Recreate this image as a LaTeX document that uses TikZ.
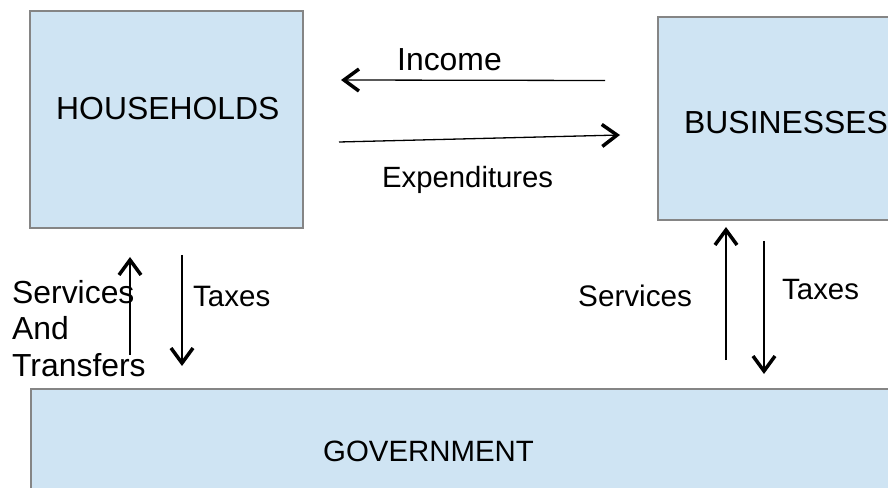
\documentclass[tikz,border=0pt]{standalone}
\usepackage{fontspec}
\setmainfont{Liberation Sans}
\usetikzlibrary{arrows.meta}
\begin{document}
\begin{tikzpicture}[x=1bp,y=-1bp,
  sector/.style={draw=boxgrey, line width=2bp, fill=boxblue, inner sep=0pt},
  lbl/.style={anchor=base west, inner sep=0pt, text=black},
  flow/.style={line width=1.3bp, -{Straight Barb[length=15bp,width=22bp,line width=3.5bp]}}]
\definecolor{boxblue}{HTML}{CFE4F3}
\definecolor{boxgrey}{HTML}{858585}
\useasboundingbox (0,0) rectangle (888,488);
\clip (0,0) rectangle (888,488);
\fill[white] (0,0) rectangle (888,488);

% sectors
\node[sector, minimum width=273bp, minimum height=217bp] (hh) at (166.5,119.5) {};
\node[sector, minimum width=262bp, minimum height=203bp] (bus) at (789,118.5) {};
\node[sector, minimum width=880bp, minimum height=140bp] (gov) at (471,459) {};

\node[lbl, font=\fontsize{32}{36}\selectfont] (hhT) at (56,120) {HOUSEHOLDS};
\node[lbl, font=\fontsize{32}{36}\selectfont] (busT) at (684,134) {BUSINESSES};
\node[lbl, font=\fontsize{29.5}{34}\selectfont] (govT) at (323,461) {GOVERNMENT};

% flow labels
\node[lbl, font=\fontsize{32}{36}\selectfont] (inc) at (397,71) {Income};
\node[lbl, font=\fontsize{29.4}{34}\selectfont] (exp) at (382,188) {Expenditures};
\node[lbl, font=\fontsize{32}{36.5}\selectfont, align=left, anchor=north west] (svcL) at (12,280) {Services\\And\\Transfers};
\node[lbl, font=\fontsize{29.6}{34}\selectfont] (taxL) at (193,307) {Taxes};
\node[lbl, font=\fontsize{29.8}{34}\selectfont] (svcR) at (578,307) {Services};
\node[lbl, font=\fontsize{29.5}{34}\selectfont] (taxR) at (782,300) {Taxes};

% arrow end points
\coordinate (incA) at (605,80.5);
\coordinate (incB) at (341,80);
\coordinate (expA) at (339,142);
\coordinate (expB) at (620,135);
\coordinate (svcLA) at (130,355);
\coordinate (svcLB) at (130,257);
\coordinate (taxLA) at (182,255);
\coordinate (taxLB) at (182,366);
\coordinate (svcRA) at (726,360);
\coordinate (svcRB) at (726,227);
\coordinate (taxRA) at (764,241);
\coordinate (taxRB) at (764,374);

\draw[flow] (incA) -- (incB);
\draw[flow] (expA) -- (expB);
\draw[flow] (svcLA) -- (svcLB);
\draw[flow] (taxLA) -- (taxLB);
\draw[flow] (svcRA) -- (svcRB);
\draw[flow] (taxRA) -- (taxRB);
\end{tikzpicture}
\end{document}
